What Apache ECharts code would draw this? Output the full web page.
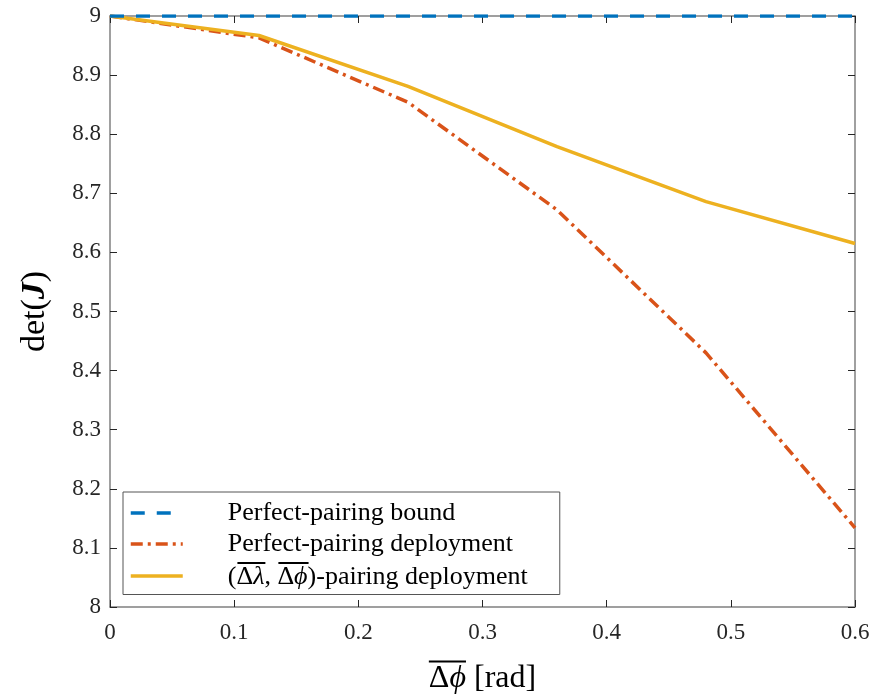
<!DOCTYPE html>
<html>
<head>
<meta charset="utf-8">
<script src="https://cdn.jsdelivr.net/npm/echarts@6/dist/echarts.min.js"></script>
<style>
  html, body { margin: 0; padding: 0; background: #fff; }
  #chart { width: 875px; height: 694px; }
</style>
</head>
<body>
<div id="chart"></div>
<script>
// x positions (mean phase error, rad)
const xValues = [0, 0.12, 0.24, 0.36, 0.48, 0.6];
// det(J) values
const boundValues = [9, 9, 9, 9, 9, 9];
const perfectValues = [9, 8.963, 8.854, 8.672, 8.43, 8.134];
const pairingValues = [9, 8.967, 8.881, 8.779, 8.686, 8.615];
const seriesNames = ['Perfect-pairing bound', 'Perfect-pairing deployment', 'pairing'];

const toPairs = arr => xValues.map((x, i) => [x, arr[i]]);

const chart = echarts.init(document.getElementById('chart'));
const serif = "'Liberation Serif', 'DejaVu Serif', serif";
const boxColor = '#808080';

// measure text so the overline bars sit over the right glyphs
const ctx = document.createElement('canvas').getContext('2d');
function tw(str, size, style) {
  ctx.font = (style || '') + ' ' + size + 'px ' + serif;
  return ctx.measureText(str).width;
}

const legSize = 26;
const nameSize = 32;
// widths for legend label  (Δλ, Δϕ)-pairing deployment
const lw = {
  p: tw('(', legSize),
  d: tw('Δ', legSize),
  l: tw('λ', legSize, 'italic'),
  c: tw(', ', legSize),
  f: tw('ϕ', legSize, 'italic'),
};
// widths for x-axis name  Δϕ [rad]
const xw = {
  d: tw('Δ', nameSize),
  f: tw('ϕ', nameSize, 'italic'),
  r: tw(' [rad]', nameSize),
};

const bar = w => ({ width: w, height: 2, lineHeight: 3, fontSize: 2, backgroundColor: '#000' });
const gap = w => ({ width: w, height: 2, lineHeight: 3, fontSize: 2 });

const axisCommon = {
  axisLine: { show: true, onZero: false, lineStyle: { color: boxColor, width: 1.5 } },
  axisTick: { show: true, inside: true, length: 7, lineStyle: { color: '#262626', width: 1 } },
  splitLine: { show: false },
};

const option = {
  animation: false,
  grid: { left: 110, right: 20, top: 16, bottom: 87, outerBoundsMode: 'none', containLabel: false },
  legend: {
    orient: 'vertical',
    left: 123,
    top: 492,
    padding: [8, 32, 4, 6],
    itemGap: 5,
    itemWidth: 52,
    itemHeight: 22,
    backgroundColor: '#fff',
    borderColor: '#555',
    borderWidth: 1,
    data: seriesNames,
    itemStyle: { opacity: 0 },
    lineStyle: { width: 3.5 },
    formatter: name => name === 'pairing'
      ? '{s1| }{b1| }{s2| }{b2| }\n{t|(Δ}{i|λ}{t|, Δ}{i|ϕ}{t|)-pairing deployment}'
      : name,
    textStyle: {
      fontFamily: serif,
      fontSize: legSize,
      color: '#000',
      padding: [0, 0, 0, 40],
      rich: {
        s1: gap(lw.p + 1),
        b1: bar(lw.d + lw.l),
        s2: gap(lw.c),
        b2: bar(lw.d + lw.f),
        t: { fontFamily: serif, fontSize: legSize, color: '#000', lineHeight: 26 },
        i: { fontFamily: serif, fontSize: legSize, color: '#000', fontStyle: 'italic', lineHeight: 26 },
      },
    },
  },
  xAxis: [
    Object.assign({}, axisCommon, {
      type: 'value', min: 0, max: 0.6, interval: 0.1, position: 'bottom',
      axisLabel: { fontFamily: serif, fontSize: 23, color: '#262626', margin: 14 },
      name: '{ob| }{og| }\n{t|Δ}{i|ϕ}{t| [rad]}',
      nameLocation: 'middle',
      nameGap: 53,
      nameTextStyle: {
        fontFamily: serif, fontSize: nameSize, color: '#000',
        rich: {
          ob: bar(xw.d + xw.f),
          og: gap(xw.r),
          t: { fontFamily: serif, fontSize: nameSize, color: '#000', lineHeight: 32 },
          i: { fontFamily: serif, fontSize: nameSize, color: '#000', fontStyle: 'italic', lineHeight: 32 },
        },
      },
    }),
    Object.assign({}, axisCommon, {
      type: 'value', min: 0, max: 0.6, interval: 0.1, position: 'top',
      axisLabel: { show: false },
    }),
  ],
  yAxis: [
    Object.assign({}, axisCommon, {
      type: 'value', min: 8, max: 9, interval: 0.1, position: 'left',
      axisLabel: { fontFamily: serif, fontSize: 23, color: '#262626', margin: 9 },
      name: 'det({b|J})',
      nameLocation: 'middle',
      nameRotate: 90,
      nameGap: 58,
      nameTextStyle: {
        fontFamily: serif, fontSize: 34, color: '#000',
        rich: { b: { fontFamily: serif, fontSize: 34, fontWeight: 'bold', fontStyle: 'italic', color: '#000' } },
      },
    }),
    Object.assign({}, axisCommon, {
      type: 'value', min: 8, max: 9, interval: 0.1, position: 'right',
      axisLabel: { show: false },
    }),
  ],
  series: [
    {
      name: seriesNames[0], type: 'line', data: toPairs(boundValues),
      symbol: 'none', z: 5,
      lineStyle: { color: '#0072BD', width: 3.5, type: [14, 12] },
      itemStyle: { color: '#0072BD' },
    },
    {
      name: seriesNames[1], type: 'line', data: toPairs(perfectValues),
      symbol: 'none',
      lineStyle: { color: '#D95319', width: 3.5, type: [12, 5, 3, 5] },
      itemStyle: { color: '#D95319' },
    },
    {
      name: seriesNames[2], type: 'line', data: toPairs(pairingValues),
      symbol: 'none',
      lineStyle: { color: '#EDB120', width: 3.5 },
      itemStyle: { color: '#EDB120' },
    },
  ],
};

chart.setOption(option);
</script>
</body>
</html>
